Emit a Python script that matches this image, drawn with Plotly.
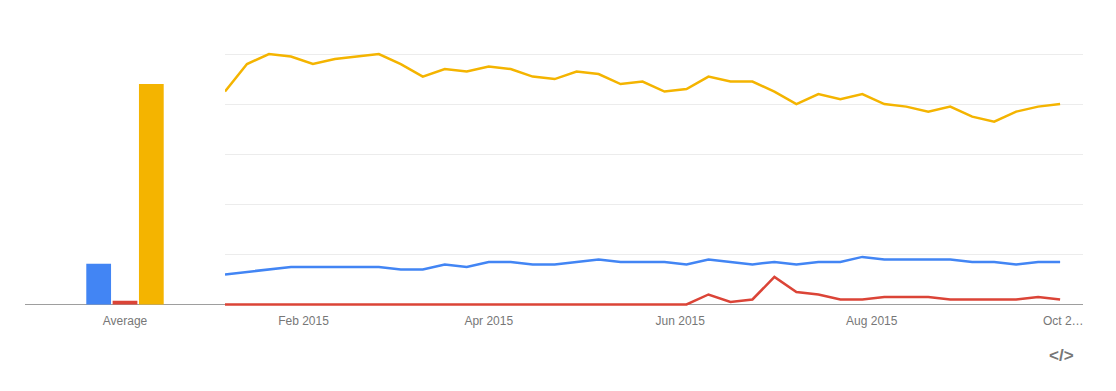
import plotly.graph_objects as go
import pandas as pd

weeks = pd.date_range("2015-01-07", periods=39, freq="7D").strftime("%Y-%m-%d").tolist()

series_names = ["Blue term", "Red term", "Yellow term"]
colors = ["#4285F4", "#DB4437", "#F4B400"]

blue = [12, 13, 14, 15, 15, 15, 15, 15, 14, 14, 16, 15, 17, 17, 16, 16, 17, 18, 17, 17,
        17, 16, 18, 17, 16, 17, 16, 17, 17, 19, 18, 18, 18, 18, 17, 17, 16, 17, 17]
red = [0, 0, 0, 0, 0, 0, 0, 0, 0, 0, 0, 0, 0, 0, 0, 0, 0, 0, 0, 0,
       0, 0, 4, 1, 2, 11, 5, 4, 2, 2, 3, 3, 3, 2, 2, 2, 2, 3, 2]
yellow = [85, 96, 100, 99, 96, 98, 99, 100, 96, 91, 94, 93, 95, 94, 91, 90, 93, 92, 88, 89,
          85, 86, 91, 89, 89, 85, 80, 84, 82, 84, 80, 79, 77, 79, 75, 73, 77, 79, 80]

averages = [16.3, 1.5, 88]
avg_category = ["Average"]

tick_dates = ["2015-02-01", "2015-04-01", "2015-06-01", "2015-08-01", "2015-10-01"]
tick_labels = ["Feb 2015", "Apr 2015", "Jun 2015", "Aug 2015", "Oct 2\u2026"]

fig = go.Figure()

for name, c, v in zip(series_names, colors, averages):
    fig.add_trace(go.Bar(x=avg_category, y=[v], name=name, marker_color=c,
                         marker_line_width=0, xaxis="x", yaxis="y", showlegend=False))

for name, c, s in zip(series_names, colors, [blue, red, yellow]):
    fig.add_trace(go.Scatter(x=weeks, y=s, name=name, mode="lines",
                             line=dict(color=c, width=2.5),
                             xaxis="x2", yaxis="y2", showlegend=False))

W, H = 1116, 391
ml, mr = 17, 41
pw = W - ml - mr
split = 200 / pw

tickfont = dict(family="Liberation Sans, Arial, sans-serif", size=12, color="#777777")

fig.update_layout(
    width=W, height=H,
    margin=dict(l=ml, r=mr, t=36, b=92),
    paper_bgcolor="white", plot_bgcolor="white",
    barmode="group", bargap=0.605, bargroupgap=0.06,
    xaxis=dict(domain=[0, split], showgrid=False, ticks="outside", ticklen=3,
               tickcolor="rgba(0,0,0,0)", tickfont=tickfont, showline=False,
               zeroline=False),
    yaxis=dict(range=[-1, 104], showgrid=False, showticklabels=False,
               zeroline=True, zerolinecolor="#9e9e9e", zerolinewidth=1),
    xaxis2=dict(domain=[split, 1], anchor="y2", type="date",
                range=["2015-01-07", "2015-10-07 07:00"],
                tickvals=tick_dates, ticktext=tick_labels,
                showgrid=False, ticks="outside", ticklen=3,
                tickcolor="rgba(0,0,0,0)", tickfont=tickfont, showline=False,
                zeroline=False),
    yaxis2=dict(range=[-1, 104], anchor="x2", showgrid=True, gridcolor="#ececec",
                gridwidth=1, tickvals=[20, 40, 60, 80, 100], showticklabels=False,
                zeroline=True, zerolinecolor="#9e9e9e", zerolinewidth=1),
    annotations=[dict(text="<b>&lt;/&gt;</b>", xref="paper", yref="paper",
                      x=0.9935, y=-0.228, showarrow=False,
                      font=dict(family="Liberation Sans, Arial, sans-serif",
                                size=17, color="#777777"))],
)

fig.write_html("out.html")
